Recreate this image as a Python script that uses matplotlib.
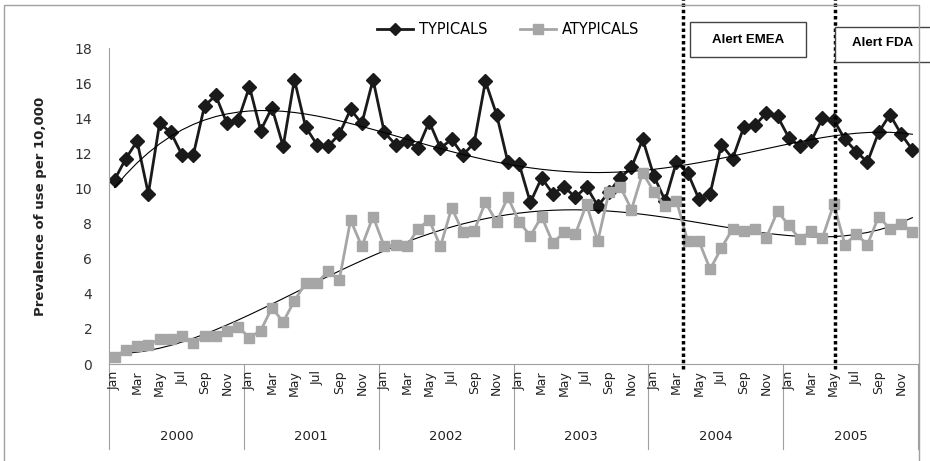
import matplotlib
matplotlib.use("Agg")
import matplotlib.pyplot as plt
import numpy as np
from matplotlib.patches import Rectangle
from matplotlib.lines import Line2D

years = ["2000", "2001", "2002", "2003", "2004", "2005"]
months = ["Jan", "", "Mar", "", "May", "", "Jul", "", "Sep", "", "Nov", ""]

typicals = [10.5, 11.7, 12.7, 9.7, 13.7, 13.2, 11.9, 11.9, 14.7, 15.3, 13.7, 13.9,
            15.8, 13.3, 14.6, 12.4, 16.2, 13.5, 12.5, 12.4, 13.1, 14.5, 13.7, 16.2,
            13.2, 12.5, 12.7, 12.3, 13.8, 12.3, 12.8, 11.9, 12.6, 16.1, 14.2, 11.5,
            11.4, 9.2, 10.6, 9.7, 10.1, 9.5, 10.1, 9.0, 9.8, 10.6, 11.2, 12.8,
            10.7, 9.3, 11.5, 10.9, 9.4, 9.7, 12.5, 11.7, 13.5, 13.6, 14.3, 14.1,
            12.9, 12.4, 12.7, 14.0, 13.9, 12.8, 12.1, 11.5, 13.2, 14.2, 13.1, 12.2]

atypicals = [0.4, 0.8, 1.0, 1.1, 1.4, 1.4, 1.6, 1.2, 1.6, 1.6, 1.9, 2.1,
             1.5, 1.9, 3.2, 2.4, 3.6, 4.6, 4.6, 5.3, 4.8, 8.2, 6.7, 8.4,
             6.7, 6.8, 6.7, 7.7, 8.2, 6.7, 8.9, 7.5, 7.6, 9.2, 8.1, 9.5,
             8.1, 7.3, 8.4, 6.9, 7.5, 7.4, 9.1, 7.0, 9.8, 10.1, 8.8, 10.9,
             9.8, 9.0, 9.3, 7.0, 7.0, 5.4, 6.6, 7.7, 7.6, 7.7, 7.2, 8.7,
             7.9, 7.1, 7.6, 7.2, 9.1, 6.8, 7.4, 6.8, 8.4, 7.7, 8.0, 7.5]

x = np.arange(len(typicals))
W, H = 930, 461

fig = plt.figure(figsize=(W / 100, H / 100), dpi=100)
ax = fig.add_axes([109 / W, (H - 364) / H, (918 - 109) / W, (364 - 48) / H])

# polynomial trend lines (as in the spreadsheet)
for series in (typicals, atypicals):
    coef = np.polyfit(x, series, 4)
    ax.plot(x, np.polyval(coef, x), color="black", lw=0.8, zorder=3)

ax.plot(x, typicals, color="#1a1a1a", lw=2, marker="D", ms=7.5, zorder=2)
ax.plot(x, atypicals, color="#a6a6a6", lw=2, marker="s", ms=7.5, zorder=4)

ax.set_xlim(-0.5, len(x) - 0.5)
ax.set_ylim(0, 18)
ax.set_yticks(range(0, 19, 2))
ax.tick_params(axis="y", length=0, labelsize=10, pad=12, labelcolor="#333333")
ax.set_xticks([])
for s in ["top", "right"]:
    ax.spines[s].set_visible(False)
ax.spines["left"].set_color("#a0a0a0")
ax.spines["bottom"].set_color("#a0a0a0")
ax.set_ylabel("Prevalence of use per 10,000", fontsize=9.5, fontweight="bold",
              labelpad=20, color="#222222")

# month and year labels
trans = ax.get_xaxis_transform()
for i in x:
    lab = months[i % 12]
    if lab:
        ax.text(i, -0.02, lab, rotation=90, ha="center", va="top",
                fontsize=9, transform=trans, color="#222222")
for k, yr in enumerate(years):
    ax.text(k * 12 + 5.5, -0.23, yr, ha="center", va="center",
            fontsize=9.5, transform=trans, color="#222222")
for k in range(len(years) + 1):
    ax.plot([k * 12 - 0.5] * 2, [0, -0.27], color="#a0a0a0", lw=0.8,
            transform=trans, clip_on=False)

# alert lines
for pos in (50.6, 64.1):
    ax.plot([pos, pos], [-0.015, 1.16], color="black", lw=2.5,
            ls=(0, (1, 0.8)), transform=trans, clip_on=False, zorder=5)

# alert boxes
fig.patches.append(Rectangle((690 / W, 1 - 57 / H), 116 / W, 35 / H,
                             transform=fig.transFigure, fill=True, fc="white",
                             ec="#444444", lw=1))
fig.text(748 / W, 1 - 40 / H, "Alert EMEA", ha="center", va="center",
         fontsize=9.5, fontweight="bold", family="Liberation Sans")
fig.patches.append(Rectangle((835 / W, 1 - 62 / H), 100 / W, 35 / H,
                             transform=fig.transFigure, fill=True, fc="white",
                             ec="#444444", lw=1))
fig.text(883 / W, 1 - 43 / H, "Alert FDA", ha="center", va="center",
         fontsize=9.5, fontweight="bold", family="Liberation Sans")

# legend
handles = [Line2D([], [], color="#1a1a1a", lw=2, marker="D", ms=6.5),
           Line2D([], [], color="#a6a6a6", lw=2, marker="s", ms=7)]
fig.legend(handles, ["TYPICALS", "ATYPICALS"], loc="center",
           bbox_to_anchor=(508 / W, 1 - 30 / H), ncol=2, frameon=False,
           fontsize=10.5, handlelength=2.5, columnspacing=2.2, handletextpad=0.4)

# chart frame
fig.add_artist(Line2D([4 / W, 4 / W, 919 / W, 919 / W],
                      [0, 1 - 5 / H, 1 - 5 / H, 0], transform=fig.transFigure,
                      color="#a0a0a0", lw=1))

fig.savefig("out.png", dpi=100)
